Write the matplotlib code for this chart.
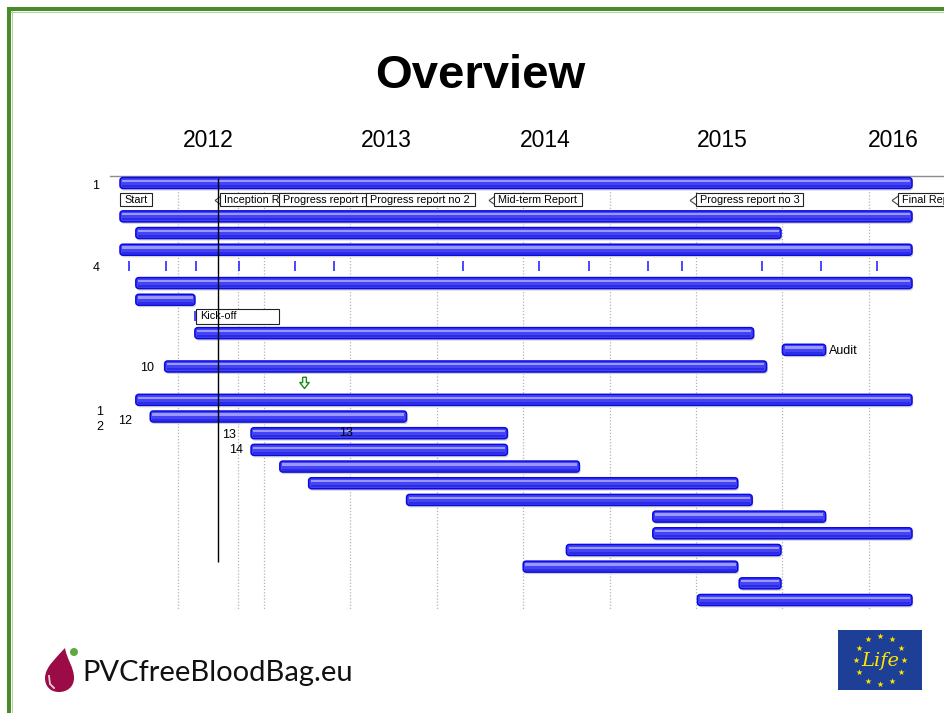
import numpy as np
import matplotlib
matplotlib.use('Agg')
import matplotlib.pyplot as plt
from matplotlib.patches import FancyBboxPatch, Rectangle, Circle, PathPatch
from matplotlib.path import Path

plt.rcParams['font.family'] = ['Liberation Sans', 'DejaVu Sans']

# timeline in months from project start
years = ['2012', '2013', '2014', '2015', '2016']
year_pos = [6.1, 18.5, 29.5, 41.8, 53.7]
grid_months = [4, 8.2, 10, 16, 22, 28, 34, 40, 46, 52]

bar_rows = [0, 2, 3, 4, 6, 7, 9, 10, 11, 13, 14, 15, 16, 17, 18, 19, 20, 21, 22, 23, 24, 25]
bar_start = [0, 0, 1.1, 0, 1.1, 1.1, 5.2, 46.0, 3.1, 1.1, 2.1, 9.1, 9.1, 11.1, 13.1, 19.9,
             37.0, 37.0, 31.0, 28.0, 43.0, 40.1]
bar_end = [55, 55, 45.9, 55, 55, 5.2, 44.0, 49.0, 44.9, 55, 19.9, 26.9, 26.9, 31.9, 42.9, 43.9,
           49.0, 55, 45.9, 42.9, 45.9, 55]

tick_row = 5
tick_months = [0.65, 3.2, 5.25, 8.25, 12.15, 14.85, 23.8, 29.1, 32.6, 36.65, 39.0, 44.6, 48.7, 52.6]

ms_row = 1
ms_labels = ['Start', 'Inception Report', 'Progress report no 1', 'Progress report no 2',
             'Mid-term Report', 'Progress report no 3', 'Final Report']
ms_months = [0, 6.53, 10.6, 16.67, 25.56, 39.58, 53.6]
ms_box_px = [32, 85, 109, 109, 88, 107, 100]

kickoff_label = 'Kick-off'
kickoff_month = 5.2
kickoff_row = 8

today_month = 6.8
flag_month, flag_row = 12.8, 12

row_labels = ['1', '4', '10', '1', '2', '12', '13', '14', '13', 'Audit']
label_month = [-1.67, -1.67, 2.36, -1.42, -1.42, 0.86, 8.06, 8.56, 15.7, 49.2]
label_row = [0.18, 5.1, 11.1, 13.75, 14.6, 14.27, 15.1, 16.0, 14.97, 10.07]
label_ha = ['center', 'center', 'right', 'center', 'center', 'right', 'right', 'right', 'center', 'left']

PX = 14.4  # pixels per month

fig = plt.figure(figsize=(9.44, 7.13), dpi=100)

# page decoration in pixel coordinates
deco = fig.add_axes([0, 0, 1, 1])
deco.set_xlim(0, 944)
deco.set_ylim(713, 0)
deco.axis('off')
deco.add_patch(Rectangle((7, 7), 4, 706, fc='#4b8a2b', ec='none'))
deco.add_patch(Rectangle((7, 7), 937, 4, fc='#4b8a2b', ec='none'))
deco.plot([11.5, 11.5], [11, 713], color='#b5d39e', lw=0.8)
deco.plot([11, 944], [11.5, 11.5], color='#b5d39e', lw=0.8)

fig.text(480 / 944, 1 - 88 / 713, 'Overview', ha='center', va='baseline',
         fontsize=34, fontweight='bold')

# blood drop logo
drop = Path([(65, 648), (67, 660), (74, 667), (74, 678), (74, 687), (67, 692), (59, 692),
             (50, 692), (45, 686), (45, 678), (45, 667), (57, 657), (65, 648), (65, 648)],
            [Path.MOVETO] + [Path.CURVE4] * 12 + [Path.CLOSEPOLY])
deco.add_patch(PathPatch(drop, fc='#9b0b45', ec='none'))
deco.plot([49, 50, 54], [676, 684, 688], color='white', lw=1.3, alpha=0.8)
deco.add_patch(Circle((74, 652), 4, fc='#5fa83f', ec='none'))
deco.text(82, 681, 'PVCfreeBloodBag.eu', fontsize=21, family='Lato', va='baseline', ha='left',
          color='#111111')

# EU LIFE logo
deco.add_patch(Rectangle((838, 630), 84, 60, fc='#1d3f95', ec='none'))
ang = np.arange(12) * np.pi / 6
deco.scatter(880 + 24 * np.cos(ang), 660 + 24 * np.sin(ang), marker='*', s=22,
             color='#ffe600', linewidths=0)
deco.text(880, 661, 'Life', fontsize=14, family='DejaVu Serif', style='italic',
          color='#ffe600', ha='center', va='center')

# gantt chart
ax = fig.add_axes([110 / 944, 1 - 612 / 713, 834 / 944, 436 / 713])
ax.set_facecolor('none')
ax.set_xlim(-10 / PX, 824 / PX)
ax.set_ylim(25.72, -0.42)
for s in ['left', 'right', 'bottom']:
    ax.spines[s].set_visible(False)
ax.spines['top'].set_color('#8c8c8c')
ax.spines['top'].set_linewidth(1)
ax.xaxis.set_ticks_position('top')
ax.set_xticks(year_pos, years)
ax.tick_params(axis='x', length=0, pad=17, labelsize=16.5)
ax.set_yticks([])

ax.vlines(grid_months, -0.42, 25.6, colors='#b4b4b4', linestyles=(0, (1, 1.5)), lw=0.9, zorder=1)

h = 0.66
for r, s, e in zip(bar_rows, bar_start, bar_end):
    ax.add_patch(FancyBboxPatch((s + 0.08, r - h / 2 + 0.12), e - s, h,
                                boxstyle='round,pad=0,rounding_size=0.22', mutation_aspect=0.86,
                                fc='#d2d2d2', ec='none', zorder=2))
    ax.add_patch(FancyBboxPatch((s, r - h / 2), e - s, h,
                                boxstyle='round,pad=0,rounding_size=0.22', mutation_aspect=0.86,
                                fc='#4444f4', ec='#0a0ae0', lw=1.1, zorder=3))
    ax.add_patch(Rectangle((s + 0.15, r - 0.2), e - s - 0.3, 0.14, fc='#9898ff', ec='none', zorder=4))
    ax.add_patch(Rectangle((s + 0.15, r + 0.12), e - s - 0.3, 0.12, fc='#2c2ce6', ec='none', zorder=4))

ax.vlines(tick_months, tick_row - 0.3, tick_row + 0.3, colors='#2a2aff', lw=1.2, zorder=3)

# milestones: arrows sit below every box, boxes stack left to right
tri = [(-0.7, 0), (0.7, -1), (0.7, 1), (-0.7, 0)]
for i, (lab, m, w) in enumerate(zip(ms_labels, ms_months, ms_box_px)):
    z = 10 + 3 * i
    left = m
    if i > 0:
        ax.plot(m + 3.5 / PX, ms_row, marker=tri, ms=7.2, mfc='white', mec='#444444',
                mew=0.8, zorder=9)
        left = m + 6 / PX
    ax.add_patch(Rectangle((left, ms_row - 0.39), w / PX, 0.78, fc='white', ec='#222222',
                           lw=0.8, zorder=z + 1))
    ax.text(left + 4 / PX, ms_row, lab, fontsize=7.8, va='center', ha='left', zorder=z + 2,
            clip_on=True)

ax.vlines(kickoff_month, kickoff_row - 0.3, kickoff_row + 0.3, colors='#2a2aff', lw=1.2, zorder=3)
ax.add_patch(Rectangle((kickoff_month + 1 / PX, kickoff_row - 0.47), 83 / PX, 0.94, fc='white',
                       ec='#222222', lw=0.8, zorder=10))
ax.text(kickoff_month + 5 / PX, kickoff_row, kickoff_label, fontsize=7.8, va='center',
        ha='left', zorder=11)

arrow = [(-0.3, 1), (0.3, 1), (0.3, 0.15), (0.75, 0.15), (0, -0.8), (-0.75, 0.15),
         (-0.3, 0.15), (-0.3, 1)]
ax.plot(flag_month, flag_row, marker=arrow, ms=9, mfc='white', mec='#1a8a1a', mew=1.0, zorder=6)

for t, m, r, ha in zip(row_labels, label_month, label_row, label_ha):
    ax.text(m, r, t, fontsize=9, ha=ha, va='center', zorder=8)

ax.vlines(today_month, -0.3, 22.7, colors='black', lw=1, zorder=50)

fig.savefig('out.png', dpi=100)
